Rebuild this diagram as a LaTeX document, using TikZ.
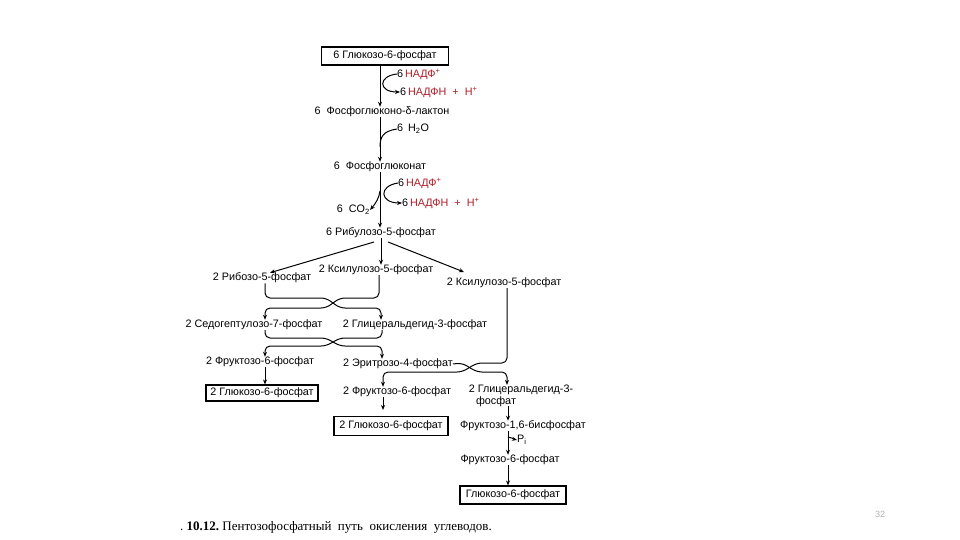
\documentclass[tikz,border=0pt]{standalone}
\usepackage{fontspec}
\setmainfont{Liberation Sans}
\newfontfamily\capfont{Liberation Serif}
\usetikzlibrary{arrows.meta}
\definecolor{nred}{RGB}{175,30,40}
\begin{document}
\begin{tikzpicture}[x=1pt,y=-1pt,
  lbl/.style={inner sep=0pt,font=\fontsize{10.8}{12}\selectfont},
  boxed/.style={lbl,draw,line width=1.1pt},
  ln/.style={line width=1pt},
  arr/.style={ln,-{Stealth[length=5pt,width=4pt]}},
  br/.style={ln,rounded corners=5pt}]
\useasboundingbox (0,0) rectangle (960,540);
\fill[white] (0,0) rectangle (960,540);
\coordinate (ax) at (380,0);
% oxidative part
\node[boxed,minimum width=127pt,minimum height=18pt] (g6p) at (385,56) {6 Глюкозо-6-фосфат};
\node[lbl,anchor=west] (n1) at (397,74) {6\,\textcolor{nred}{НАДФ\textsuperscript{+}}};
\node[lbl,anchor=west] (n2) at (400,92) {6\,\textcolor{nred}{НАДФН \ + \ Н\textsuperscript{+}}};
\node[lbl] (lac) at (382,112) {6 \ Фосфоглюконо-δ-лактон};
\node[lbl,anchor=west] (h2o) at (397,129) {6 \,H\textsubscript{2}O};
\node[lbl] (pg) at (380,167) {6 \ Фосфоглюконат};
\node[lbl,anchor=west] (n3) at (398,183) {6\,\textcolor{nred}{НАДФ\textsuperscript{+}}};
\node[lbl,anchor=west] (n4) at (402,203) {6\,\textcolor{nred}{НАДФН \ + \ Н\textsuperscript{+}}};
\node[lbl,anchor=east] (co2) at (370,210) {6 \ CO\textsubscript{2}};
\node[lbl] (ru5p) at (381,233) {6 Рибулозо-5-фосфат};
\draw[arr] (g6p.south -| ax) -- (lac.north -| ax);
\draw[arr] (n1.west) .. controls (378,76) and (378,92) .. (n2.west);
\draw[arr] (lac.south -| ax) -- (pg.north -| ax);
\draw[ln] (h2o.west) .. controls (383,131) and (380,137) .. (380,147);
\draw[arr] (pg.south -| ax) -- (ru5p.north -| ax);
\draw[arr] (n3.west) .. controls (378,186) and (380,203) .. (n4.west);
\draw[arr] (380,191) .. controls (379,198) and (376,203) .. (co2.east);
% non-oxidative part
\node[lbl] (r5p) at (262,278) {2 Рибозо-5-фосфат};
\node[lbl] (x5pa) at (376,270) {2 Ксилулозо-5-фосфат};
\node[lbl] (x5pb) at (504,283) {2 Ксилулозо-5-фосфат};
\draw[arr] (374,242) -- (r5p.north -| 270,0);
\draw[arr] (ru5p.south) -- (x5pa.north -| ru5p);
\draw[arr] (388,242) -- (464,272);
\node[lbl] (s7p) at (254,325) {2 Седогептулозо-7-фосфат};
\node[lbl] (gap1) at (415,325) {2 Глицеральдегид-3-фосфат};
\draw[br,-{Stealth[length=5pt,width=4pt]}] (r5p.south -| 265,0) -- (265,298) -- (326,298) -- (340,308) -- (381,308) -- (s7p.north -| 381,0);
\draw[br,-{Stealth[length=5pt,width=4pt]}] (x5pa.south -| 379,0) -- (379,298) -- (340,298) -- (326,308) -- (265,308) -- (s7p.north -| 265,0);
\node[lbl] (f6pa) at (260,362) {2 Фруктозо-6-фосфат};
\node[lbl] (e4p) at (398,364) {2 Эритрозо-4-фосфат};
\draw[br,-{Stealth[length=5pt,width=4pt]}] (s7p.south -| 265,0) -- (265,338) -- (326,338) -- (340,346) -- (382,346) -- (e4p.north -| 382,0);
\draw[br,-{Stealth[length=5pt,width=4pt]}] (gap1.south -| 382,0) -- (382,338) -- (340,338) -- (326,346) -- (265,346) -- (f6pa.north -| 265,0);
\node[boxed,minimum width=112pt,minimum height=16pt] (g6pa) at (262,393) {2 Глюкозо-6-фосфат};
\draw[arr] (f6pa.south -| 265,0) -- (g6pa.north -| 265,0);
\node[lbl] (f6pb) at (397,392) {2 Фруктозо-6-фосфат};
\node[lbl] (gap2a) at (521,390) {2 Глицеральдегид-3-};
\node[lbl,anchor=north] (gap2b) at (496,396) {фосфат};
\draw[br,-{Stealth[length=5pt,width=4pt]}] (e4p.east) -- (462,363) -- (477,372) -- (507,372) -- (gap2a.north -| 507,0);
\draw[br,-{Stealth[length=5pt,width=4pt]}] (x5pb.south -| 507,0) -- (507,363) -- (477,363) -- (462,372) -- (383,372) -- (f6pb.north -| 383,0);
\node[boxed,minimum width=114pt,minimum height=19pt] (g6pb) at (391,426) {2 Глюкозо-6-фосфат};
\draw[arr] (f6pb.south -| 383,0) -- (383,410);
\node[lbl] (f16) at (523,426) {Фруктозо-1,6-бисфосфат};
\node[lbl,anchor=west] (pi) at (517,440) {P\textsubscript{i}};
\node[lbl] (f6pc) at (510,460) {Фруктозо-6-фосфат};
\node[boxed,minimum width=106pt,minimum height=18pt] (g6pc) at (513,495) {Глюкозо-6-фосфат};
\draw[arr] (gap2b.south -| 508,0) -- (f16.north -| 508,0);
\draw[arr] (f16.south -| 508,0) -- (f6pc.north -| 508,0);
\draw[arr] (508,437) .. controls (511,437) and (513,439) .. (pi.west);
\draw[arr] (f6pc.south -| 508,0) -- (g6pc.north -| 508,0);
% caption and page number
\node[inner sep=0pt,anchor=west,font=\capfont\fontsize{13}{15}\selectfont] (cap) at (180,527) {.\ \textbf{10.12.}\ Пентозофосфатный \ путь \ окисления \ углеводов.};
\node[inner sep=0pt,text=black!30,font=\fontsize{9}{10}\selectfont] (pg32) at (880,514) {32};
\end{tikzpicture}
\end{document}
